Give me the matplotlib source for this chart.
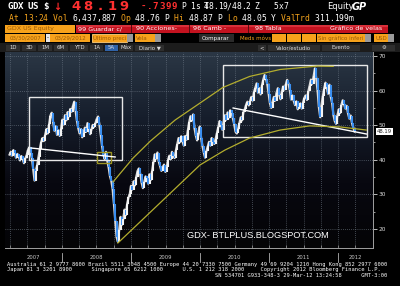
import numpy as np
import pandas as pd
import matplotlib
matplotlib.use("Agg")
import matplotlib.pyplot as plt
from matplotlib.patches import Rectangle
from matplotlib.colors import LinearSegmentedColormap

# weekly closes GDX, 03/30/2007 - 03/29/2012
close = [
    41.5, 42.3, 41.2, 42.8, 41.9, 40.6, 41.7, 40.9, 39.8, 41.1, 40.2, 39.0, 40.4,
    41.3, 42.8, 43.6, 42.1, 40.5, 37.2, 34.0, 36.8, 38.5, 40.9, 43.2, 45.1, 46.3,
    45.4, 47.2, 48.9, 47.6, 50.3, 52.8, 53.6, 51.0, 48.4, 49.7, 47.2, 48.5, 46.9,
    48.8, 51.6, 50.2, 52.9, 51.4, 53.8, 52.5, 54.7, 53.9, 55.6, 56.8, 54.2, 51.3,
    49.2, 47.6, 48.9, 46.5, 47.8, 49.3, 48.1, 50.6, 49.0, 47.4, 48.8, 50.1, 49.5,
    50.6, 51.8, 52.5, 50.2, 47.3, 44.0, 41.5, 40.2, 42.3, 39.6, 37.8, 35.2, 33.9,
    31.5, 27.2, 22.4, 17.6, 16.3, 19.8, 23.5, 21.2, 22.8, 25.6, 24.0, 27.3, 29.1,
    30.2, 32.5, 31.4, 33.8, 32.6, 35.1, 36.8, 37.5, 35.9, 33.4, 31.8, 33.5, 35.2,
    34.6, 33.1, 35.8, 34.2, 36.9, 39.4, 41.6, 40.3, 42.1, 39.5, 38.2, 36.8, 37.9,
    38.6, 36.5, 37.8, 39.9, 41.2, 40.1, 42.3, 41.0, 40.5, 42.8, 44.6, 46.3, 45.1,
    46.8, 45.2, 44.1, 46.9, 45.8, 48.5, 50.9, 52.6, 51.4, 53.1, 49.2, 47.0, 45.6,
    47.8, 49.6, 46.3, 44.0, 42.1, 40.6, 42.5, 43.9, 45.2, 44.1, 46.3, 45.0, 44.6,
    46.1, 47.8, 49.6, 51.2, 50.1, 48.7, 50.8, 52.9, 51.6, 53.7, 52.2, 54.3, 53.5,
    52.0, 50.3, 48.1, 47.6, 48.9, 50.7, 52.3, 51.4, 53.8, 54.6, 55.9, 56.8, 55.7,
    56.9, 58.2, 57.1, 59.6, 60.8, 62.1, 59.4, 60.7, 58.9, 61.5, 63.2, 64.5, 63.4,
    62.0, 59.1, 56.3, 55.0, 56.8, 58.2, 57.1, 59.4, 60.7, 58.8, 57.5, 59.6, 61.2,
    60.3, 61.8, 63.1, 62.0, 60.2, 57.4, 58.6, 57.0, 55.8, 56.9, 54.6, 55.4, 56.3,
    54.8, 56.5, 57.9, 58.6, 57.3, 59.8, 61.4, 63.2, 62.0, 64.1, 66.4, 63.5, 60.1,
    55.2, 52.3, 55.9, 58.4, 60.6, 62.3, 60.9, 59.1, 61.7, 58.2, 56.4, 53.0, 51.2,
    50.4, 52.8, 54.6, 53.5, 55.9, 57.2, 56.1, 54.8, 55.6, 53.4, 51.9, 52.8, 50.6,
    49.3, 48.19,
]
dates = pd.date_range("2007-03-30", "2012-03-29", periods=len(close))
years = ["2007", "2008", "2009", "2010", "2011", "2012"]
yticks = [20, 30, 40, 50, 60, 70]

# drawn annotations (decimal year, price)
box1 = [(2007.52, 58.15), (2008.87, 39.94)]
box2 = [(2010.33, 67.40), (2012.42, 46.59)]
trend1 = [(2007.55, 43.41), (2008.77, 40.81)]
trend2 = [(2010.48, 54.97), (2012.41, 47.46)]
small_box = [(2008.51, 42.25), (2008.71, 39.08)]
arc_up_t = [2008.74, 2009.03, 2009.28, 2009.64, 2010.00, 2010.33, 2010.72, 2011.16, 2011.70, 2011.93]
arc_up_p = [33.6, 40.5, 45.4, 51.5, 56.4, 60.9, 64.1, 66.1, 67.1, 67.0]
arc_lo_t = [2008.81, 2010.00, 2010.36, 2010.72, 2011.16, 2011.59, 2012.03, 2012.41]
arc_lo_p = [15.95, 38.5, 42.8, 46.3, 48.6, 49.8, 49.5, 48.6]

W, H = 400, 286
fig = plt.figure(figsize=(4, 2.86), dpi=100, facecolor="black")
AMBER = "#f4a31c"
ORANGE = "#f7a21b"
DIM = "#9c5c08"


def fx(x):
    return x / W


def fy(y):
    return 1 - y / H


def box(x0, y0, x1, y1, fc, ec="none", lw=0.6):
    fig.add_artist(Rectangle((fx(x0), fy(y1)), (x1 - x0) / W, (y1 - y0) / H,
                             transform=fig.transFigure, facecolor=fc,
                             edgecolor=ec, linewidth=lw))


def txt(x, y, s, color="white", size=4.5, ha="left", **kw):
    fig.text(fx(x), fy(y), s, color=color, fontsize=size, ha=ha, va="center", **kw)


def mono(x, y, s, adv, color, size, weight="normal", family="DejaVu Sans Mono"):
    for k, ch in enumerate(s):
        if ch != " ":
            fig.text(fx(x + (k + 0.5) * adv), fy(y), ch, color=color, fontsize=size,
                     family=family, weight=weight, ha="center", va="center")


# -------- header row 1 --------
mono(8, 6.5, "GDX US $", 5.0, "white", 6.6, "bold")
txt(53, 6.5, "↓", "#ff2a2a", 7, weight="bold")
mono(70, 6.5, "48.19", 12.0, "#ff3030", 9.5, "bold", "DejaVu Sans")
mono(140, 6.5, "-.7399", 6.2, "#ff3030", 6.6, "bold")
mono(181, 6.5, "P 1s T", 4.6, "white", 5.8)
mono(204, 6.5, "48.19/48.2 Z", 4.6, "white", 5.8)
mono(274, 6.5, "5x7", 4.8, "white", 5.8)
txt(327, 6.5, "Equity", "white", 6.0)
txt(352, 6.5, "GP", "white", 7.0, weight="bold", style="italic")

# -------- header row 2 --------
row2 = [("At 13:24", AMBER), ("Vol", AMBER), ("6,437,887", "white"), ("Op", AMBER),
        ("48.76", "white"), ("P", "white"), ("Hi", AMBER), ("48.87", "white"),
        ("P", "white"), ("Lo", AMBER), ("48.05", "white"), ("Y", "white"),
        ("ValTrd", AMBER), ("311.199m", "white")]
idx = 0
for s, c in row2:
    mono(9 + idx * 4.85, 18.5, s, 4.85, c, 5.8)
    idx += len(s) + 1

# -------- row 3 : security box + red menu bar --------
box(5, 25, 75, 32.5, ORANGE)
txt(7, 28.8, "GDX US Equity", DIM, 4.6)
box(76, 25, 388, 32.5, "#c3121f")
box(76, 25, 388, 27, "#d8303a")
for xs in [131, 189, 248]:
    box(xs, 25, xs + 1, 32.5, "#5a0a0e")
for x, s in [(78, "99 Guardar c/"), (136, "90 Acciones-"), (193, "96 Camb -"),
             (255, "98 Tabla"), (330, "Gráfico de velas")]:
    txt(x, 28.8, s, "white", 4.6)

# -------- row 4 : date range / options --------
y0, y1 = 34, 42
box(5, y0, 45, y1, ORANGE)
txt(10, 38, "03/30/2007", DIM, 4.0)
box(45.5, y0, 49.5, y1, "#e8e8e8")
txt(47.5, 38, "-", "black", 4.0, ha="center")
box(50, y0, 90, y1, ORANGE)
txt(55, 38, "03/29/2012", DIM, 4.0)
box(92, y0, 127, y1, ORANGE, "#ffd080")
txt(93, 38, "Último preci", DIM, 4.0)
box(127, y0, 133, y1, "#9a9a9a")
box(135, y0, 155, y1, ORANGE)
txt(136, 38, "Vela", DIM, 4.0)
box(155, y0, 161, y1, "#9a9a9a")
box(199, y0, 234, y1, "#2a2a2a")
txt(202, 38, "Comparar", "white", 4.0)
txt(240, 38, "Meds móvs", AMBER, 4.0)
for xs in [272, 287, 302]:
    box(xs, y0, xs + 13.5, y1, ORANGE)
box(317, y0, 365, y1, ORANGE)
txt(318, 38, "Sin gráfico inferi", DIM, 4.0)
box(365, y0, 371, y1, "#9a9a9a")
box(374, y0, 388, y1, ORANGE)
txt(375, 38, "USD", DIM, 4.0)
box(388, y0, 394, y1, "#9a9a9a")

# -------- row 5 : tabs --------
box(0, 43.5, 400, 51.5, "#1c1c1c")
for x0, x1, s in [(6, 20, "1D"), (22, 36, "3D"), (38, 52, "1M"), (54, 68, "6M"),
                  (70, 88, "YTD"), (90, 103, "1A"), (105, 118, "5A"), (119, 133, "Máx"),
                  (135, 164, "Diario ▼"), (258, 266, "<"), (268, 320, "Valor/estudio"),
                  (322, 360, "Evento"), (372, 395, "⚙")]:
    box(x0, 44.5, x1, 50.5, "#3063a8" if s == "5A" else "#2e2e2e")
    txt((x0 + x1) / 2, 47.5, s, "#dcdcdc", 3.9, ha="center")

# -------- chart --------
xl, xr = 2007.174, 2012.507
yb, yt = 14.5, 71.16
ax = fig.add_axes([fx(5), fy(248), (373 - 5) / W, (248 - 52) / H])
ax.set_xlim(xl, xr)
ax.set_ylim(yb, yt)
cmap = LinearSegmentedColormap.from_list("bg", ["#2b3745", "#161e2c", "#080810", "#040406"])
ax.imshow(np.linspace(0, 1, 256).reshape(-1, 1), aspect="auto", cmap=cmap,
          extent=[xl, xr, yb, yt], zorder=0)

t = dates.year + (dates.dayofyear - 1) / 365.25
opens = np.r_[close[0], close[:-1]]
up = np.array(close) >= opens
ax.plot(t, close, color="#dcdcdc", lw=1.6, zorder=3)
ax.vlines(t, opens, close, colors=np.where(up, "#f4f4f4", "#3b8ff0"), lw=1.5, zorder=4)

# grid
for q in np.arange(2007.25, xr, 0.25):
    ax.axvline(q, color="#7a8592", lw=0.5, ls=(0, (1, 2)), zorder=1)
for v in yticks:
    ax.axhline(v, color="#7a8592", lw=0.5, ls=(0, (1, 2)), zorder=1)

# annotations
for (a, b), (c, d) in [box1, box2]:
    ax.add_patch(Rectangle((a, d), c - a, b - d, fill=False, ec="#e8e8e8", lw=1.0, zorder=5))
(a, b), (c, d) = small_box
ax.add_patch(Rectangle((a, d), c - a, b - d, fill=False, ec="#9d9522", lw=1.0, zorder=5))
for (a, b), (c, d) in [trend1, trend2]:
    ax.plot([a, c], [b, d], color="white", lw=1.0, zorder=5)
ax.plot(arc_up_t, arc_up_p, color="#b3ad2e", lw=0.9, zorder=5)
ax.plot(arc_lo_t, arc_lo_p, color="#b3ad2e", lw=0.9, zorder=5)

# axes styling
for s in ["top", "left"]:
    ax.spines[s].set_visible(False)
for s in ["right", "bottom"]:
    ax.spines[s].set_color("#a0a0a0")
    ax.spines[s].set_linewidth(0.7)
ax.yaxis.tick_right()
ax.set_yticks(yticks)
ax.set_yticklabels([str(v) for v in yticks])
ax.set_yticks(np.arange(25, 70, 10), minor=True)
ax.tick_params(axis="y", which="major", colors="#d8d8d8", labelsize=4.2, length=3,
               width=0.6, pad=1)
ax.tick_params(axis="y", which="minor", colors="#d8d8d8", length=1.5, width=0.5)
ax.set_xticks([])
ax.set_xticks(np.arange(2007.25, xr, 0.25), minor=True)
ax.tick_params(axis="x", which="minor", direction="in", colors="#a0a0a0", length=2, width=0.5)

# year labels and separators
xt = ax.get_xaxis_transform()
edges = [xl, 2008, 2009, 2010, 2011, 2012, xr]
for i, yr in enumerate(years):
    ax.text((edges[i] + edges[i + 1]) / 2, -0.046, yr, transform=xt, color="#c8c8c8",
            fontsize=3.8, ha="center", va="center")
for e in edges[1:-1]:
    ax.plot([e, e], [-0.025, -0.07], transform=xt, color="#b0b0b0", lw=0.6, clip_on=False)

# last price tag
ax.text(1.01, close[-1], "%.2f" % close[-1], transform=ax.get_yaxis_transform(),
        color="#222222", fontsize=3.8, ha="left", va="center",
        bbox=dict(boxstyle="square,pad=0.15", fc="white", ec="none"))

txt(187, 236, "GDX- BTLPLUS.BLOGSPOT.COM", "white", 6.6, family="Liberation Sans")

# -------- footer --------
fsize = 3.26 / 0.602 * 0.72
txt(7, 264.5, "Australia 61 2 9777 8600 Brazil 5511 3048 4500 Europe 44 20 7330 7500 "
    "Germany 49 69 9204 1210 Hong Kong 852 2977 6000", "white", fsize, family="DejaVu Sans Mono")
txt(7, 270, "Japan 81 3 3201 8900      Singapore 65 6212 1000      U.S. 1 212 318 2000"
    "     Copyright 2012 Bloomberg Finance L.P.", "white", fsize, family="DejaVu Sans Mono")
txt(7, 275.5, " " * 64 + "SN 534701 G933-348-3 29-Mar-12 13:24:58" + " " * 6 + "GMT-3:00",
    "white", fsize, family="DejaVu Sans Mono")

fig.savefig("out.png", dpi=100, facecolor="black")
